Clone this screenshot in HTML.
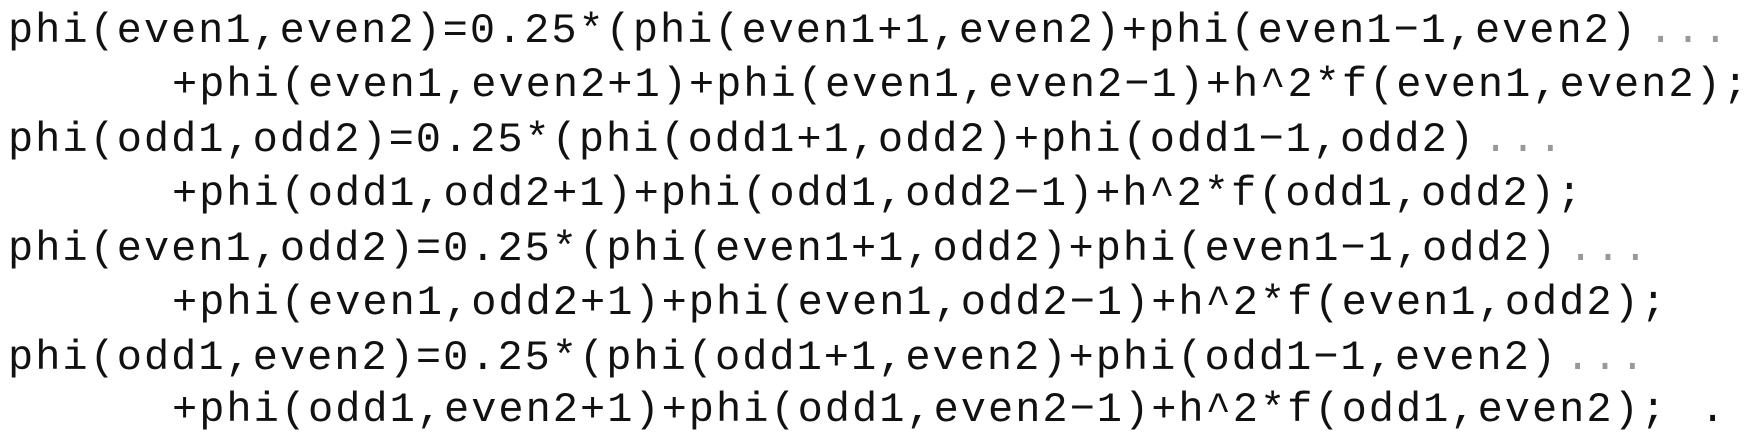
<!DOCTYPE html>
<html><head><meta charset="utf-8"><style>
html,body{margin:0;padding:0;background:#fff;width:1746px;height:433px;overflow:hidden}
text{font-family:"Liberation Mono",monospace;font-size:42px;fill:#111}
.d{fill:#999}
</style></head><body>
<svg width="1746" height="433" xmlns="http://www.w3.org/2000/svg">
<text x="8" y="42" textLength="1628" lengthAdjust="spacing">phi(even1,even2)=0.25*(phi(even1+1,even2)+phi(even1−1,even2)</text>
<text class="d" x="1648" y="42" textLength="80" lengthAdjust="spacing">...</text>
<text x="172" y="96" textLength="1576" lengthAdjust="spacing">+phi(even1,even2+1)+phi(even1,even2−1)+h^2*f(even1,even2);</text>
<text x="8" y="151" textLength="1466" lengthAdjust="spacing">phi(odd1,odd2)=0.25*(phi(odd1+1,odd2)+phi(odd1−1,odd2)</text>
<text class="d" x="1483" y="151" textLength="80" lengthAdjust="spacing">...</text>
<text x="172" y="205" textLength="1410" lengthAdjust="spacing">+phi(odd1,odd2+1)+phi(odd1,odd2−1)+h^2*f(odd1,odd2);</text>
<text x="8" y="260" textLength="1548" lengthAdjust="spacing">phi(even1,odd2)=0.25*(phi(even1+1,odd2)+phi(even1−1,odd2)</text>
<text class="d" x="1568" y="260" textLength="80" lengthAdjust="spacing">...</text>
<text x="172" y="314" textLength="1494" lengthAdjust="spacing">+phi(even1,odd2+1)+phi(even1,odd2−1)+h^2*f(even1,odd2);</text>
<text x="8" y="369" textLength="1548" lengthAdjust="spacing">phi(odd1,even2)=0.25*(phi(odd1+1,even2)+phi(odd1−1,even2)</text>
<text class="d" x="1565" y="369" textLength="80" lengthAdjust="spacing">...</text>
<text x="172" y="421" textLength="1494" lengthAdjust="spacing">+phi(odd1,even2+1)+phi(odd1,even2−1)+h^2*f(odd1,even2);</text>
<text x="1700" y="421">.</text>
</svg>
</body></html>
